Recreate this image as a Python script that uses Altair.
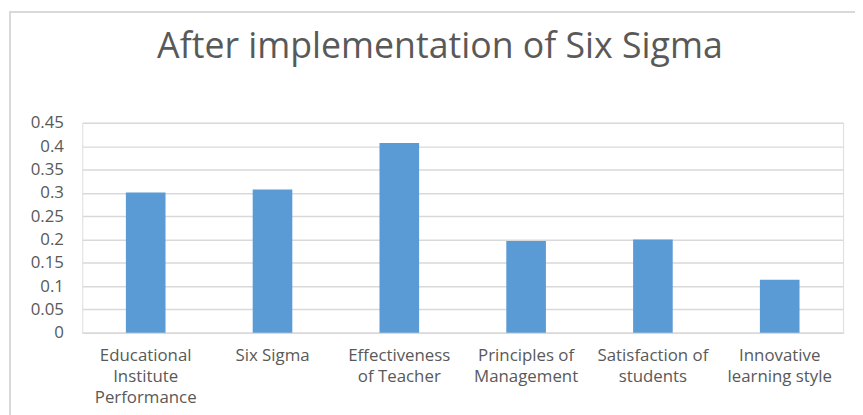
import json
import altair as alt
import pandas as pd

categories = [
    "Educational Institute Performance",
    "Six Sigma",
    "Effectiveness of Teacher",
    "Principles of Management",
    "Satisfaction of students",
    "Innovative learning style",
]
label_lines = [
    ["Educational", "Institute", "Performance"],
    ["Six Sigma"],
    ["Effectiveness", "of Teacher"],
    ["Principles of", "Management"],
    ["Satisfaction of", "students"],
    ["Innovative", "learning style"],
]
values = [0.301, 0.307, 0.407, 0.197, 0.200, 0.114]
y_ticks = [0, 0.05, 0.1, 0.15, 0.2, 0.25, 0.3, 0.35, 0.4, 0.45]
title_text = "After implementation of Six Sigma"

df = pd.DataFrame({"category": categories, "value": values})
label_map = json.dumps(dict(zip(categories, label_lines)))

FONT = "Open Sans"
TXT = "#595959"

bars = alt.Chart(df).mark_bar(color="#5B9BD5").encode(
    x=alt.X(
        "category:N",
        sort=categories,
        title=None,
        scale=alt.Scale(paddingInner=0.6875, paddingOuter=0.34375),
        axis=alt.Axis(
            labelAngle=0,
            labelExpr=f"{label_map}[datum.label]",
            labelFont=FONT,
            labelFontSize=17,
            labelColor=TXT,
            labelLineHeight=21,
            labelPadding=15,
            labelBaseline="top",
            ticks=False,
            domainColor="#d9d9d9",
            domainWidth=1.5,
            labelLimit=200,
        ),
    ),
    y=alt.Y(
        "value:Q",
        title=None,
        scale=alt.Scale(domain=[0, 0.45], nice=False),
        axis=alt.Axis(
            values=y_ticks,
            format=".2~f",
            labelFont=FONT,
            labelFontSize=17,
            labelColor=TXT,
            labelPadding=19,
            ticks=False,
            domain=False,
            gridColor="#d9d9d9",
            gridWidth=1.5,
        ),
    ),
)

border = alt.Chart(df).mark_rect(
    fill=None, stroke="#d9d9d9", strokeWidth=2, clip=False
).encode(
    x=alt.value(-73), x2=alt.value(800), y=alt.value(-112), y2=alt.value(310)
)

title = alt.Chart(pd.DataFrame({"t": [title_text]})).mark_text(
    font=FONT, fontSize=36, color=TXT, align="center", baseline="alphabetic"
).encode(
    text="t:N", x=alt.value(361), y=alt.value(-65)
)

chart = (
    alt.layer(border, bars, title)
    .properties(
        width=768,
        height=212,
        autosize=alt.AutoSizeParams(type="none"),
        padding={"left": 75, "top": 114, "right": 12, "bottom": 85},
    )
    .configure_view(stroke=None)
    .configure(background="white")
)

chart.save("out.html", embed_options={"renderer": "svg", "actions": False})
